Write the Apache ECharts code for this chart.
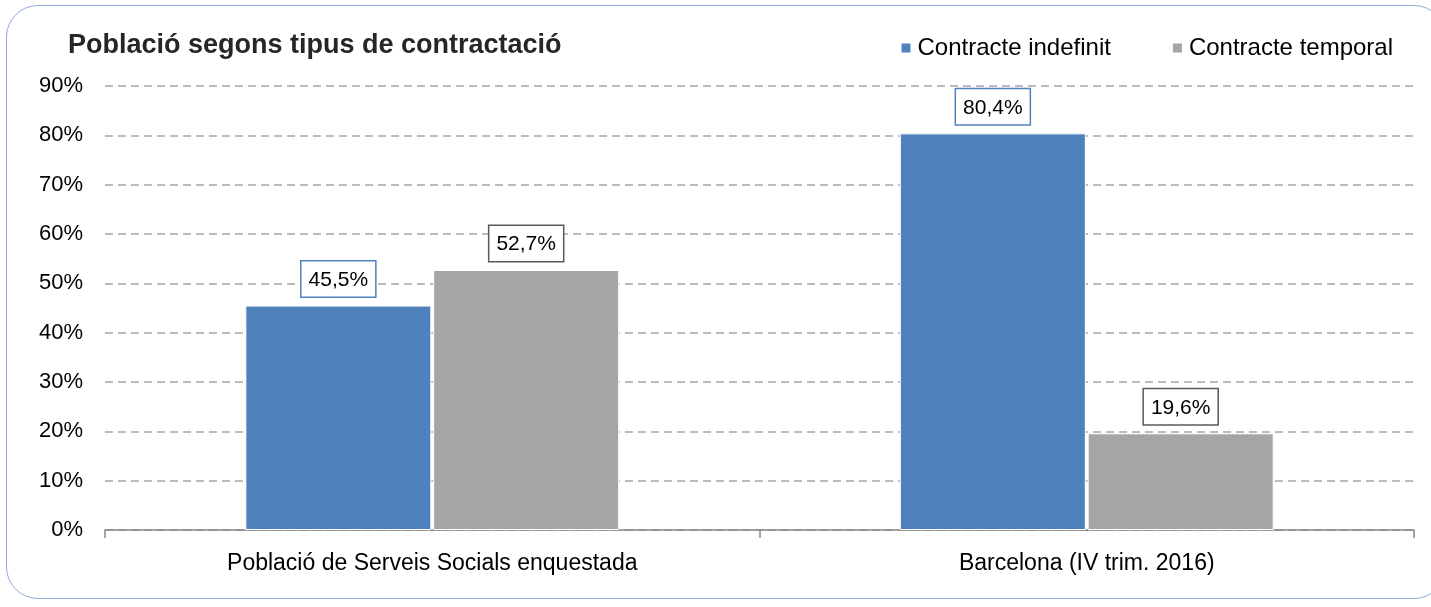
<!DOCTYPE html>
<html>
<head>
<meta charset="utf-8">
<script src="https://cdn.jsdelivr.net/npm/echarts@6/dist/echarts.min.js"></script>
<style>
  html, body { margin: 0; padding: 0; background: #fff; }
  .frame {
    position: absolute; left: 6px; top: 5px; width: 1440px; height: 594px;
    border: 1px solid #8faadc; border-radius: 32px; box-sizing: border-box;
  }
  #chart { position: absolute; left: 0; top: 0; width: 1431px; height: 607px; }
</style>
</head>
<body>
<div class="frame"></div>
<div id="chart"></div>
<script>
const categories = ['Població de Serveis Socials enquestada', 'Barcelona (IV trim. 2016)']
const indefinit = [45.5, 80.4]
const temporal = [52.7, 19.6]
const seriesNames = ['Contracte indefinit', 'Contracte temporal']

const FONT = '"Liberation Sans", sans-serif'
const BLUE = '#4f81bd'
const GREY = '#a5a5a5'

function labelStyle(border) {
  return {
    show: true,
    position: 'top',
    distance: 9,
    formatter: (p) => p.value.toFixed(1).replace('.', ',') + '%',
    color: '#000',
    fontFamily: FONT,
    fontSize: 21,
    backgroundColor: '#fff',
    borderColor: border,
    borderWidth: 1.5,
    padding: [8, 7, 6, 7],
  }
}

const chart = echarts.init(document.getElementById('chart'), null, { renderer: 'canvas' })
chart.setOption({
  animation: false,
  title: {
    text: 'Població segons tipus de contractació',
    left: 63, top: 27,
    textStyle: { fontFamily: FONT, fontSize: 27, fontWeight: 'bold', color: '#262626' },
  },
  legend: {
    right: 33, top: 31,
    itemWidth: 11, itemHeight: 11, itemGap: 60,
    icon: 'rect',
    textStyle: { fontFamily: FONT, fontSize: 24, color: '#000', padding: [0, 0, 0, 1] },
    data: seriesNames,
  },
  grid: { left: 105, right: 17, top: 86, bottom: 77 },
  xAxis: {
    type: 'category',
    data: categories,
    axisLine: { lineStyle: { color: '#868686', width: 1.5 } },
    axisTick: { show: true, length: 8, lineStyle: { color: '#868686', width: 1.5 } },
    axisLabel: { fontFamily: FONT, fontSize: 23, color: '#000', margin: 22 },
  },
  yAxis: {
    type: 'value',
    min: 0, max: 90, interval: 10,
    axisLine: { show: false },
    axisTick: { show: false },
    axisLabel: { formatter: '{value}%', fontFamily: FONT, fontSize: 22, color: '#000', margin: 22 },
    splitLine: { lineStyle: { color: '#a6a6a6', type: [8, 5], width: 1.5 } },
  },
  series: [
    {
      name: seriesNames[0], type: 'bar', data: indefinit,
      barWidth: 186, barGap: '1%',
      itemStyle: { color: BLUE, borderColor: '#fff', borderWidth: 1 },
      label: labelStyle(BLUE),
    },
    {
      name: seriesNames[1], type: 'bar', data: temporal,
      barWidth: 186,
      itemStyle: { color: GREY, borderColor: '#fff', borderWidth: 1 },
      label: labelStyle('#595959'),
    },
  ],
})
window.addEventListener('resize', () => chart.resize())
</script>
</body>
</html>
